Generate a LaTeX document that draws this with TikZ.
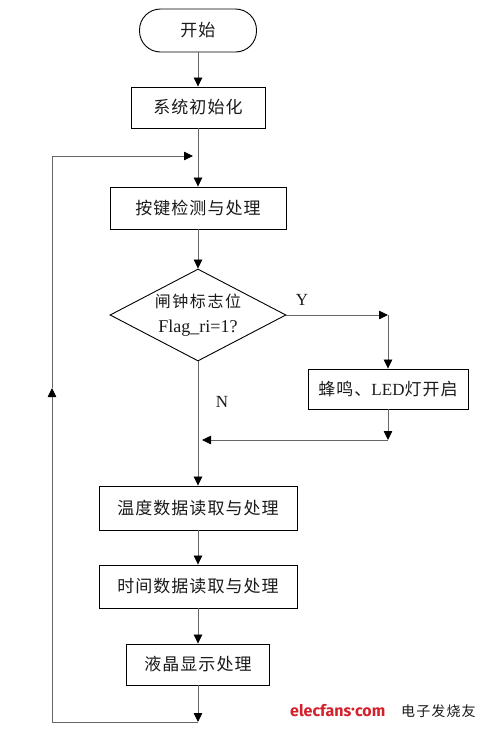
\documentclass[tikz,border=0pt]{standalone}
\usepackage{fontspec}
\setmainfont{Liberation Serif}
\newfontfamily\cjk{Noto Sans CJK SC}[LetterSpace=6]
\newfontfamily\cjkd{Noto Sans CJK SC}[LetterSpace=10]
\newfontfamily\cjkw{Noto Sans CJK SC}[LetterSpace=8]
\newfontfamily\logofont{Fira Sans}
\usetikzlibrary{arrows.meta,shapes.geometric}
\definecolor{linegray}{HTML}{666666}
\definecolor{txt}{HTML}{1A1A1A}
\definecolor{logored}{HTML}{D3202A}
\begin{document}
\begin{tikzpicture}[x=1pt,y=-1pt,
  box/.style={draw=black,line width=0.9pt,rectangle,inner sep=0pt,text=txt,font=\fontsize{17}{19}\selectfont\cjk},
  term/.style={box,rounded corners=21pt},
  decbox/.style={draw=black,line width=0.9pt,diamond,aspect=1.91,inner sep=0pt,
    minimum width=176pt,minimum height=92pt,text=txt,align=center,font=\fontsize{16}{22}\selectfont},
  conn/.style={draw=linegray,line width=0.8pt},
  arr/.style={conn,-{Triangle[length=9pt,width=8.5pt,color=black]}},
  lbl/.style={text=txt,font=\fontsize{17}{18}\selectfont,inner sep=0pt}
]
\useasboundingbox (0,0) rectangle (494,729);
\fill[white] (0,0) rectangle (494,729);

\node[term,minimum width=117pt,minimum height=43pt] (start) at (198,30.5) {开始};
\node[box,minimum width=134pt,minimum height=41pt] (init) at (198,107.5) {系统初始化};
\node[box,minimum width=176pt,minimum height=42pt] (key) at (198,208) {按键检测与处理};
\node[decbox] (dec) at (198,315) {{\fontsize{16}{18}\selectfont\cjkd 闸钟标志位}\\[3pt]{\fontsize{18}{20}\selectfont Flag\_ri=1?}};
\node[box,minimum width=160pt,minimum height=40pt] (alarm) at (388,389) {蜂鸣、{\rmfamily LED}灯开启};
\node[box,minimum width=198pt,minimum height=44pt] (temp) at (198,508) {温度数据读取与处理};
\node[box,minimum width=198pt,minimum height=43pt] (time) at (198,586.5) {时间数据读取与处理};
\node[box,minimum width=143pt,minimum height=41pt] (lcd) at (198,664.5) {液晶显示处理};

\node[lbl] (ylab) at (302,300) {Y};
\node[lbl] (nlab) at (222,402) {N};

\coordinate (ycorner) at (388,315);
\coordinate (ymerge) at (388,440);
\coordinate (nmerge) at (202,440);
\coordinate (bot) at (198,722);
\coordinate (botleft) at (52,722);
\coordinate (leftmid) at (52,388);
\coordinate (topleft) at (52,156);
\coordinate (loopin) at (193,156);

\draw[arr] (start.south) -- (init.north);
\draw[arr] (init.south) -- (key.north);
\draw[arr] (key.south) -- (dec.north);
\draw[arr] (dec.east) -- (ycorner);
\draw[arr] (ycorner) -- (alarm.north);
\draw[arr] (alarm.south) -- (ymerge);
\draw[arr] (ymerge) -- (nmerge);
\draw[arr] (dec.south) -- (temp.north);
\draw[arr] (temp.south) -- (time.north);
\draw[arr] (time.south) -- (lcd.north);
\draw[arr] (lcd.south) -- (bot);
\draw[arr] (bot) -- (botleft) -- (leftmid);
\draw[arr] (leftmid) -- (topleft) -- (loopin);

\node[inner sep=0pt,anchor=west,text=logored,font=\fontsize{16}{18}\selectfont\logofont\bfseries] (logo) at (290,711) {elecfans{\raisebox{0.3ex}{·}}com};
\node[inner sep=0pt,anchor=west,text=txt,font=\fontsize{14}{16}\selectfont\cjkw] (logocn) at (401,711) {电子发烧友};
\end{tikzpicture}
\end{document}
